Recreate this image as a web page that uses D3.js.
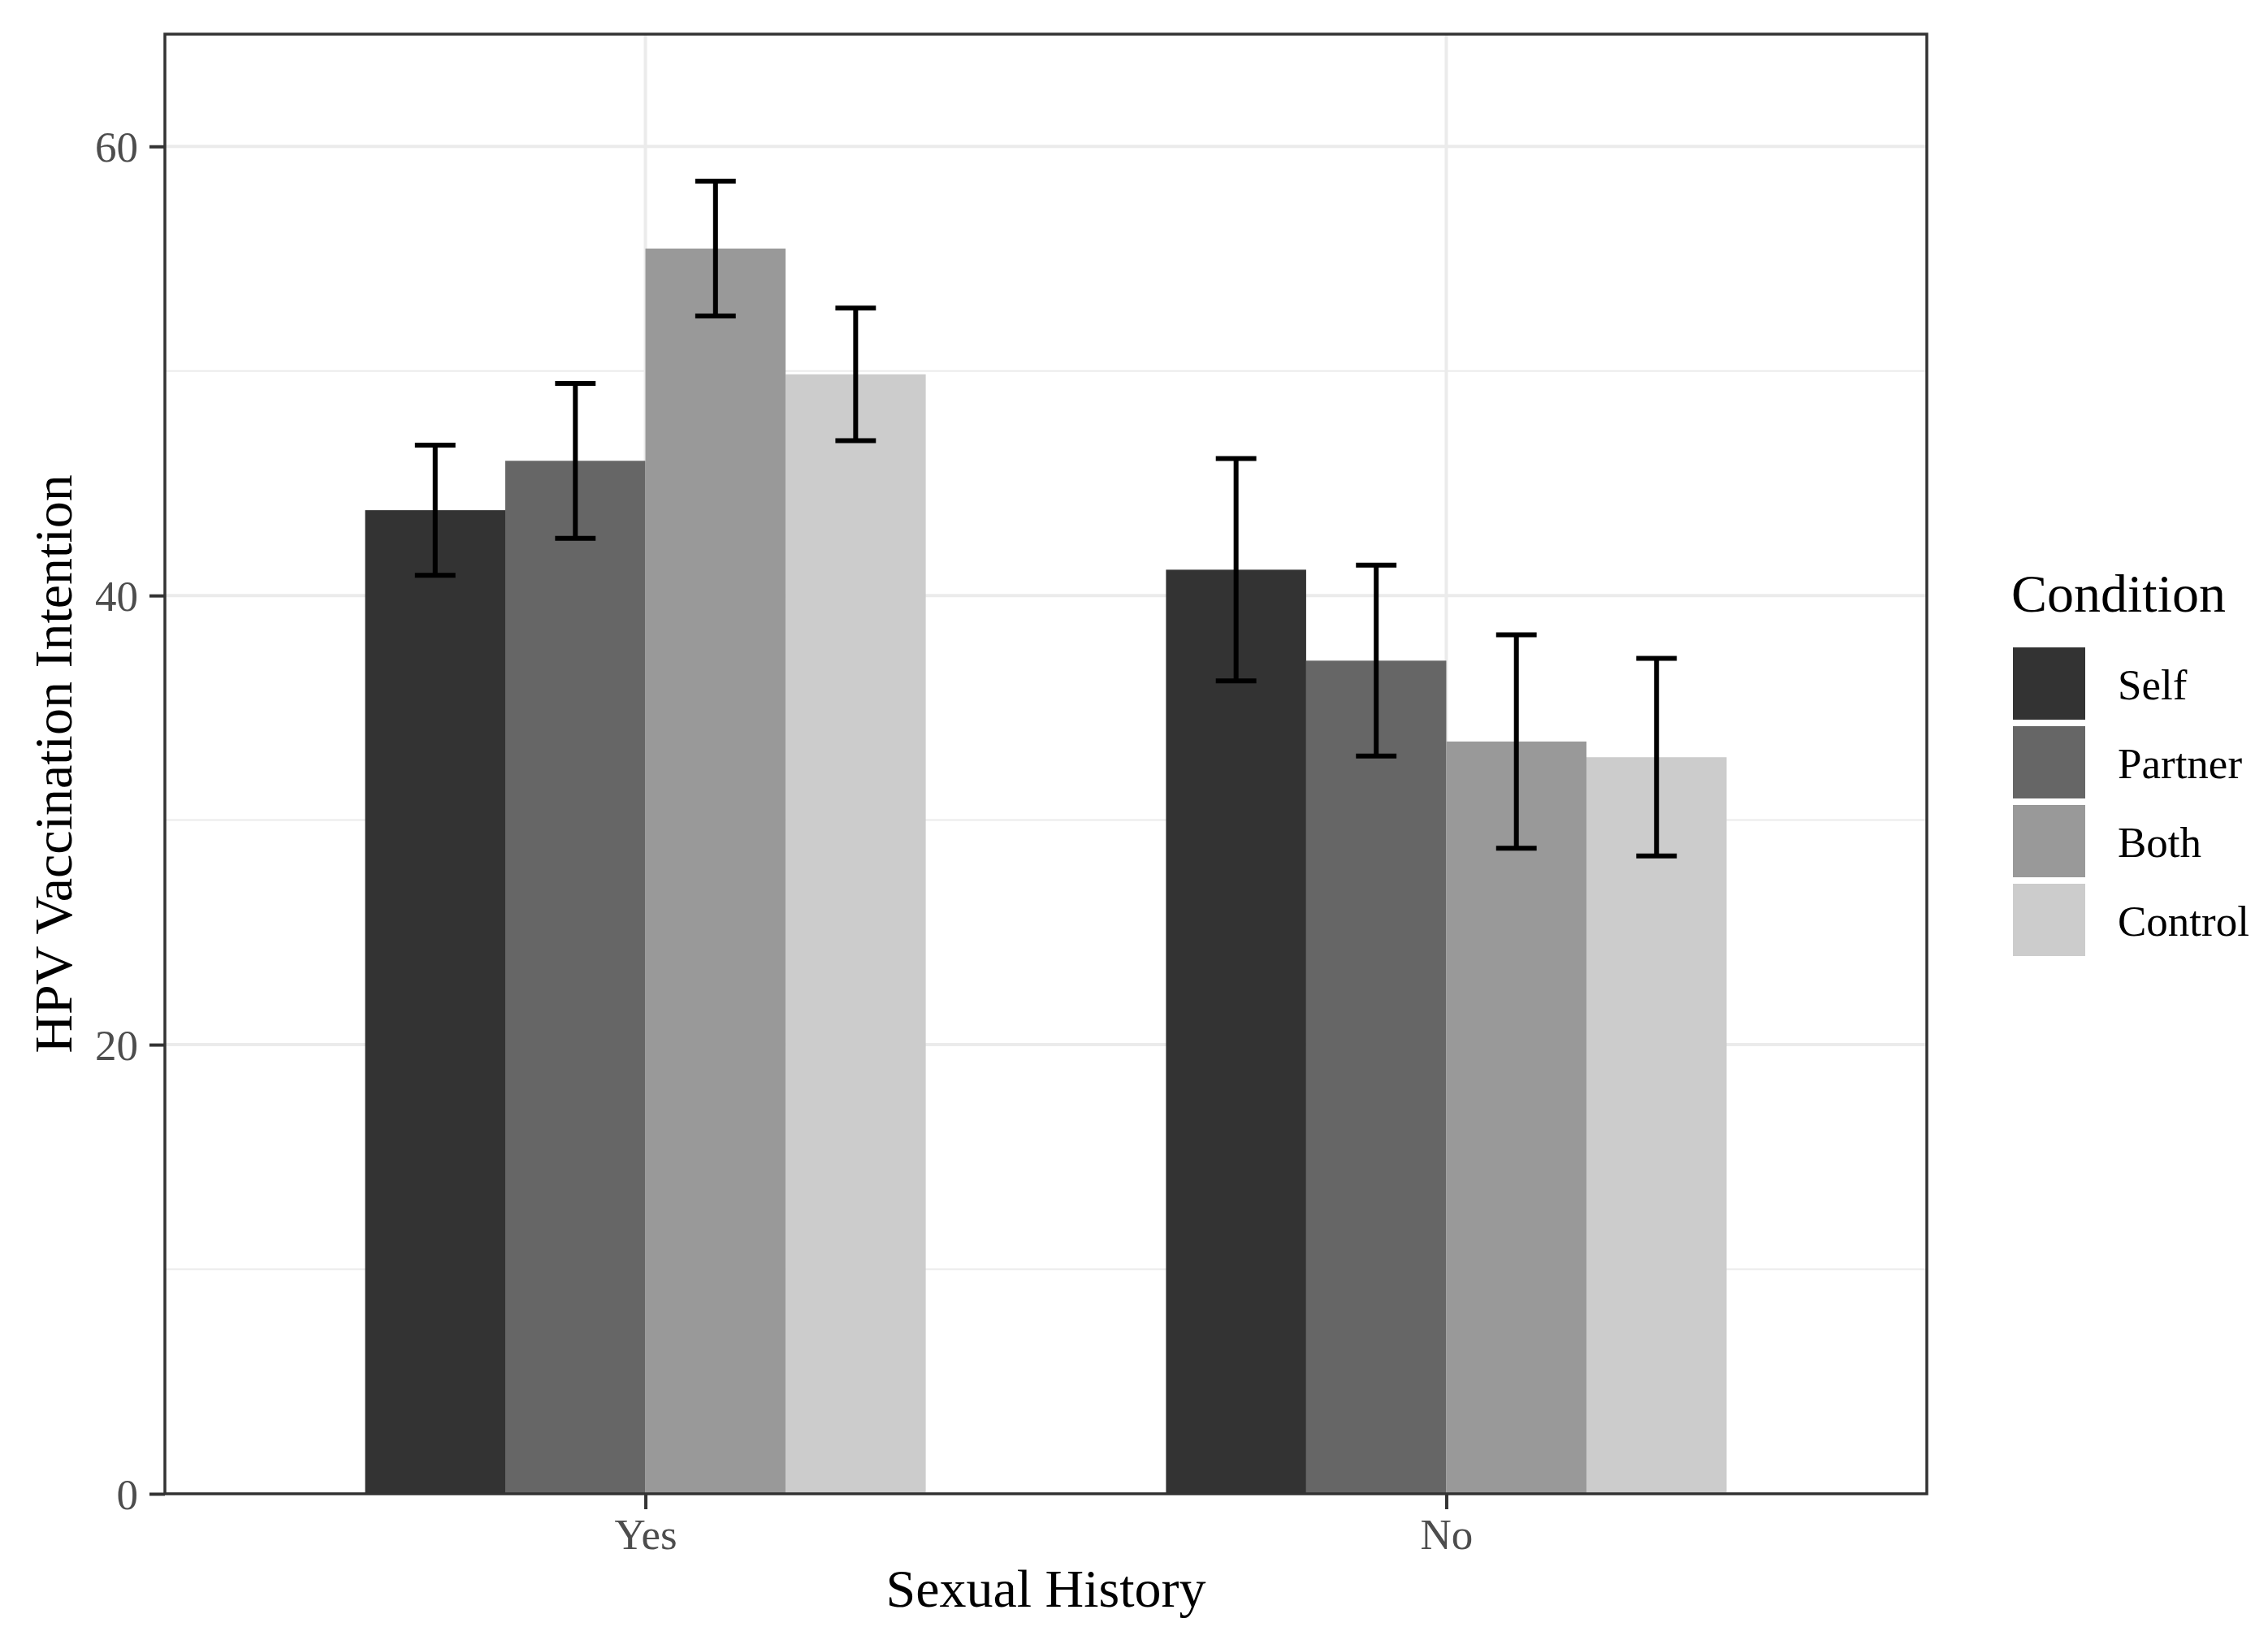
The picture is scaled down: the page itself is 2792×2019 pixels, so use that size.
<!DOCTYPE html>
<html>
<head>
<meta charset="utf-8">
<script src="https://cdn.jsdelivr.net/npm/d3@7"></script>
<style>
  html, body { margin: 0; padding: 0; background: #ffffff; }
  svg { display: block; }
  text { font-family: "Liberation Serif", "Times New Roman", serif; }
</style>
</head>
<body>
<script>
// ---- Data ----
const categories = ["Yes", "No"];
const conditions = ["Self", "Partner", "Both", "Control"];
const meansYes = [43.8, 46.0, 55.45, 49.85];
const meansNo  = [41.15, 37.1, 33.5, 32.8];
const errYes   = [2.9, 3.45, 3.0, 2.95];
const errNo    = [4.95, 4.25, 4.75, 4.4];
const fillColors = ["#333333", "#666666", "#999999", "#CCCCCC"];
const yMajorTicks = [0, 20, 40, 60];
const yMinorTicks = [10, 30, 50];
const xTitle = "Sexual History";
const yTitle = "HPV Vaccination Intention";
const legendTitle = "Condition";

const data = [];
categories.forEach((cat, ci) => {
  const means = ci === 0 ? meansYes : meansNo;
  const errs = ci === 0 ? errYes : errNo;
  conditions.forEach((cond, k) => {
    data.push({ cat, cond, mean: means[k], err: errs[k] });
  });
});

// ---- Layout ----
const W = 2792, H = 2019;
const panel = { left: 203, right: 2372, top: 42, bottom: 1839 };

const svg = d3.select("body").append("svg")
  .attr("width", W).attr("height", H)
  .attr("viewBox", `0 0 ${W} ${H}`);

svg.append("rect").attr("width", W).attr("height", H).attr("fill", "#ffffff");

const x = d3.scalePoint()
  .domain(categories)
  .range([panel.left, panel.right])
  .padding(0.6);

const step = x.step();
const xInner = d3.scaleBand()
  .domain(conditions)
  .range([-0.35 * step, 0.35 * step])
  .padding(0);

const y = d3.scaleLinear()
  .domain([0, 65])
  .range([panel.bottom, panel.top]);

const color = d3.scaleOrdinal().domain(conditions).range(fillColors);

// ---- Grid ----
const grid = svg.append("g");
grid.selectAll("line.minor").data(yMinorTicks).enter().append("line")
  .attr("x1", panel.left).attr("x2", panel.right)
  .attr("y1", d => y(d)).attr("y2", d => y(d))
  .attr("stroke", "#EBEBEB").attr("stroke-width", 2);
grid.selectAll("line.major").data(yMajorTicks).enter().append("line")
  .attr("x1", panel.left).attr("x2", panel.right)
  .attr("y1", d => y(d)).attr("y2", d => y(d))
  .attr("stroke", "#EBEBEB").attr("stroke-width", 4);
grid.selectAll("line.vmajor").data(categories).enter().append("line")
  .attr("x1", d => x(d)).attr("x2", d => x(d))
  .attr("y1", panel.top).attr("y2", panel.bottom)
  .attr("stroke", "#EBEBEB").attr("stroke-width", 4);

// ---- Bars ----
svg.append("g").selectAll("rect").data(data).enter().append("rect")
  .attr("x", d => x(d.cat) + xInner(d.cond))
  .attr("width", xInner.bandwidth())
  .attr("y", d => y(d.mean))
  .attr("height", d => y(0) - y(d.mean))
  .attr("fill", d => color(d.cond));

// ---- Error bars ----
const capHalf = 0.0253 * step;
const eb = svg.append("g").attr("stroke", "#000000").attr("stroke-width", 6).attr("fill", "none");
const ebg = eb.selectAll("g").data(data).enter().append("g");
const cx = d => x(d.cat) + xInner(d.cond) + xInner.bandwidth() / 2;
ebg.append("line")
  .attr("x1", cx).attr("x2", cx)
  .attr("y1", d => y(d.mean + d.err)).attr("y2", d => y(d.mean - d.err));
ebg.append("line")
  .attr("x1", d => cx(d) - capHalf).attr("x2", d => cx(d) + capHalf)
  .attr("y1", d => y(d.mean + d.err)).attr("y2", d => y(d.mean + d.err));
ebg.append("line")
  .attr("x1", d => cx(d) - capHalf).attr("x2", d => cx(d) + capHalf)
  .attr("y1", d => y(d.mean - d.err)).attr("y2", d => y(d.mean - d.err));

// ---- Panel border ----
svg.append("rect")
  .attr("x", panel.left).attr("y", panel.top)
  .attr("width", panel.right - panel.left).attr("height", panel.bottom - panel.top)
  .attr("fill", "none").attr("stroke", "#333333").attr("stroke-width", 3.5);

// ---- Axes ----
const yAxis = d3.axisLeft(y).tickValues(yMajorTicks).tickSize(19).tickPadding(14).tickFormat(d3.format("d"));
const gy = svg.append("g").attr("transform", `translate(${panel.left},0)`).call(yAxis);
gy.select(".domain").remove();
gy.selectAll(".tick line").attr("stroke", "#333333").attr("stroke-width", 4);
gy.selectAll(".tick text")
  .attr("fill", "#4D4D4D").attr("font-size", 53)
  .attr("font-family", "Liberation Serif, Times New Roman, serif")
  .attr("dy", "0.34em");

const xAxis = d3.axisBottom(x).tickSize(19).tickPadding(14);
const gx = svg.append("g").attr("transform", `translate(0,${panel.bottom})`).call(xAxis);
gx.select(".domain").remove();
gx.selectAll(".tick line").attr("stroke", "#333333").attr("stroke-width", 4);
gx.selectAll(".tick text")
  .attr("fill", "#4D4D4D").attr("font-size", 53)
  .attr("font-family", "Liberation Serif, Times New Roman, serif")
  .attr("y", 68).attr("dy", 0);

// ---- Axis titles ----
svg.append("text")
  .attr("x", (panel.left + panel.right) / 2).attr("y", 1978)
  .attr("text-anchor", "middle").attr("font-size", 66).attr("fill", "#000000")
  .text(xTitle);

svg.append("text")
  .attr("transform", `translate(88,${(panel.top + panel.bottom) / 2}) rotate(-90)`)
  .attr("text-anchor", "middle").attr("font-size", 66).attr("fill", "#000000")
  .text(yTitle);

// ---- Legend ----
const legend = svg.append("g");
legend.append("text")
  .attr("x", 2476).attr("y", 753)
  .attr("font-size", 66).attr("fill", "#000000")
  .text(legendTitle);
const keyX = 2478, keyTop = 797, keyPitch = 97, keyW = 89, keyH = 89;
const items = legend.selectAll("g.item").data(conditions).enter().append("g")
  .attr("transform", (d, i) => `translate(${keyX},${keyTop + i * keyPitch})`);
items.append("rect")
  .attr("width", keyW).attr("height", keyH)
  .attr("fill", d => color(d));
items.append("text")
  .attr("x", 2607 - keyX).attr("y", keyH / 2).attr("dy", "0.36em")
  .attr("font-size", 53).attr("fill", "#000000")
  .text(d => d);
</script>
</body>
</html>
